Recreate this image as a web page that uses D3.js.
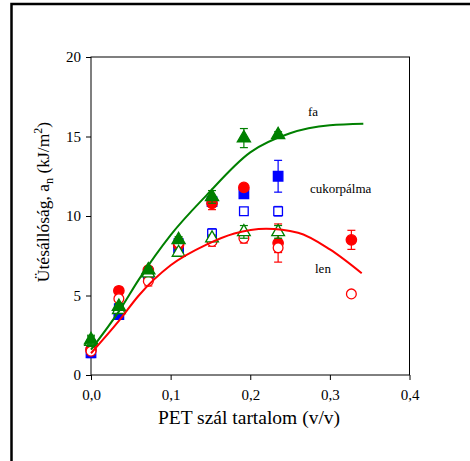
<!DOCTYPE html>
<html>
<head>
<meta charset="utf-8">
<script src="https://cdn.jsdelivr.net/npm/d3@7"></script>
<style>
  body { margin: 0; background: #fff; }
</style>
</head>
<body>
<div id="chart"></div>
<script>
// PET fibre content (v/v) for each measurement column
const xFa = [0, 0.035, 0.072, 0.11, 0.152, 0.192, 0.235];
const xLen = [0, 0.035, 0.072, 0.11, 0.152, 0.192, 0.235, 0.327];

// impact strength values, kJ/m2
const faFilled = [2.2, 4.3, 6.6, 8.5, 11.2, 14.9, 15.1];
const faFilledErr = [0.3, 0.2, 0.2, 0.2, 0.4, 0.6, 0.2];
const faOpen = [2.1, 4.1, 6.4, 7.7, 8.6, 9.0, 9.0];
const faOpenErr = [0.3, 0.2, 0.2, 0.2, 0.2, 0.4, 0.4];

const lenFilled = [1.6, 5.3, 6.6, 8.2, 10.8, 11.8, 8.3, 8.5];
const lenFilledErr = [0.2, 0.2, 0.2, 0.3, 0.4, 0.2, 1.2, 0.6];
const lenOpen = [1.5, 4.8, 5.9, 8.3, 8.4, 8.6, 8.0, 5.1];
const lenOpenErr = [0.2, 0.2, 0.3, 0.3, 0.3, 0.3, 0.3, 0.1];

const cukFilled = [1.4, 3.8, 6.4, 8.0, 10.9, 11.4, 12.5];
const cukFilledErr = [0.3, 0.2, 0.2, 0.2, 0.3, 0.2, 1.0];
const cukOpen = [1.9, 4.2, 6.2, 8.3, 8.9, 10.3, 10.3];
const cukOpenErr = [0.2, 0.2, 0.2, 0.2, 0.3, 0.2, 0.3];

// fitted curves
const faCurveX = [0, 0.035, 0.06, 0.1, 0.145, 0.2, 0.25, 0.3, 0.342];
const faCurveY = [1.6, 4.0, 6.0, 8.8, 11.3, 14.0, 15.2, 15.7, 15.8];
const lenCurveX = [0, 0.035, 0.06, 0.1, 0.145, 0.18, 0.22, 0.26, 0.3, 0.34];
const lenCurveY = [1.37, 3.4, 5.0, 6.9, 8.2, 8.9, 9.2, 8.95, 7.9, 6.4];

const xTicks = [0, 0.1, 0.2, 0.3, 0.4];
const yTicks = [0, 5, 10, 15, 20];

const width = 470;
const height = 461;
const marginLeft = 91;
const marginRight = 60;
const marginTop = 57;
const marginBottom = 86;
const serif = 'Liberation Serif';

const svg = d3.select('#chart')
  .append('svg')
  .attr('width', width)
  .attr('height', height)
  .attr('viewBox', [0, 0, width, height]);

// outer frame (top and left edges visible)
svg.append('path')
  .attr('d', 'M11.5,470 V4 H470')
  .attr('fill', 'none')
  .attr('stroke', '#000')
  .attr('stroke-width', 2.5);

const x = d3.scaleLinear().domain([0, 0.4]).range([marginLeft, width - marginRight - 0.5]);
const y = d3.scaleLinear().domain([0, 20]).range([height - marginBottom, marginTop]);

const fmt = d => d3.format('.1f')(d).replace('.', ',');

// box
svg.append('rect')
  .attr('x', x(0)).attr('y', y(20))
  .attr('width', x(0.4) - x(0)).attr('height', y(0) - y(20))
  .attr('fill', 'none').attr('stroke', '#000').attr('stroke-width', 1);

const xAxis = svg.append('g')
  .attr('transform', 'translate(0,' + y(0) + ')')
  .call(d3.axisBottom(x).tickValues(xTicks).tickFormat(fmt).tickSize(5).tickPadding(9));
const yAxis = svg.append('g')
  .attr('transform', 'translate(' + x(0) + ',0)')
  .call(d3.axisLeft(y).tickValues(yTicks).tickSize(5).tickPadding(5));

[xAxis, yAxis].forEach(a => {
  a.attr('font-family', null).attr('font-size', null);
  a.select('.domain').remove();
  a.selectAll('text').attr('fill', '#000').attr('font-family', serif).attr('font-size', 15);
  a.selectAll('line').attr('stroke', '#000');
});

// axis titles
svg.append('text')
  .attr('x', 249).attr('y', 424)
  .attr('text-anchor', 'middle')
  .attr('font-family', serif)
  .attr('font-size', 19.5)
  .text('PET szál tartalom (v/v)');

const yTitle = svg.append('text')
  .attr('transform', 'translate(49,202) rotate(-90)')
  .attr('text-anchor', 'middle')
  .attr('font-family', serif)
  .attr('font-size', 17.5);
yTitle.append('tspan').text('Ütésállóság, a');
yTitle.append('tspan').attr('font-size', 12).attr('dy', 4).text('n');
yTitle.append('tspan').attr('dy', -4).text(' (kJ/m');
yTitle.append('tspan').attr('font-size', 12).attr('dy', -7).text('2');
yTitle.append('tspan').attr('dy', 7).text(')');

// scatter series
const series = [
  { xs: xFa, ys: cukFilled, err: cukFilledErr, color: '#0000ff', shape: d3.symbolSquare, size: 90, filled: true },
  { xs: xFa, ys: cukOpen, err: cukOpenErr, color: '#0000ff', shape: d3.symbolSquare, size: 75, filled: false },
  { xs: xLen, ys: lenFilled, err: lenFilledErr, color: '#ff0000', shape: d3.symbolCircle, size: 85, filled: true },
  { xs: xLen, ys: lenOpen, err: lenOpenErr, color: '#ff0000', shape: d3.symbolCircle, size: 75, filled: false },
  { xs: xFa, ys: faOpen, err: faOpenErr, color: '#008000', shape: d3.symbolTriangle, size: 70, filled: false },
  { xs: xFa, ys: faFilled, err: faFilledErr, color: '#008000', shape: d3.symbolTriangle, size: 75, filled: true }
];

series.forEach(s => {
  const pts = s.xs.map((v, i) => ({ x: v, y: s.ys[i], e: s.err[i] }));
  const g = svg.append('g');
  const bars = g.selectAll('g.err').data(pts).enter().append('g')
    .attr('stroke', s.color).attr('stroke-width', 1.2);
  bars.append('line')
    .attr('x1', d => x(d.x)).attr('x2', d => x(d.x))
    .attr('y1', d => y(d.y - d.e)).attr('y2', d => y(d.y + d.e));
  bars.append('line')
    .attr('x1', d => x(d.x) - 4).attr('x2', d => x(d.x) + 4)
    .attr('y1', d => y(d.y + d.e)).attr('y2', d => y(d.y + d.e));
  bars.append('line')
    .attr('x1', d => x(d.x) - 4).attr('x2', d => x(d.x) + 4)
    .attr('y1', d => y(d.y - d.e)).attr('y2', d => y(d.y - d.e));
  g.selectAll('path').data(pts).enter().append('path')
    .attr('transform', d => 'translate(' + x(d.x) + ',' + y(d.y) + ')')
    .attr('d', d3.symbol().type(s.shape).size(s.size))
    .attr('fill', s.filled ? s.color : '#fff')
    .attr('stroke', s.color)
    .attr('stroke-width', 1.3);
});

// fitted curves
const line = d3.line().x(d => x(d[0])).y(d => y(d[1])).curve(d3.curveMonotoneX);
svg.append('path')
  .attr('d', line(faCurveX.map((v, i) => [v, faCurveY[i]])))
  .attr('fill', 'none').attr('stroke', '#008000').attr('stroke-width', 2);
svg.append('path')
  .attr('d', line(lenCurveX.map((v, i) => [v, lenCurveY[i]])))
  .attr('fill', 'none').attr('stroke', '#ff0000').attr('stroke-width', 2);

// curve labels
const label = (tx, ty, anchor, str) => svg.append('text')
  .attr('x', tx).attr('y', ty).attr('text-anchor', anchor)
  .attr('font-family', serif).attr('font-size', 13).text(str);
label(313, 116, 'middle', 'fa');
label(310, 193, 'start', 'cukorpálma');
label(315, 273, 'start', 'len');
</script>
</body>
</html>
